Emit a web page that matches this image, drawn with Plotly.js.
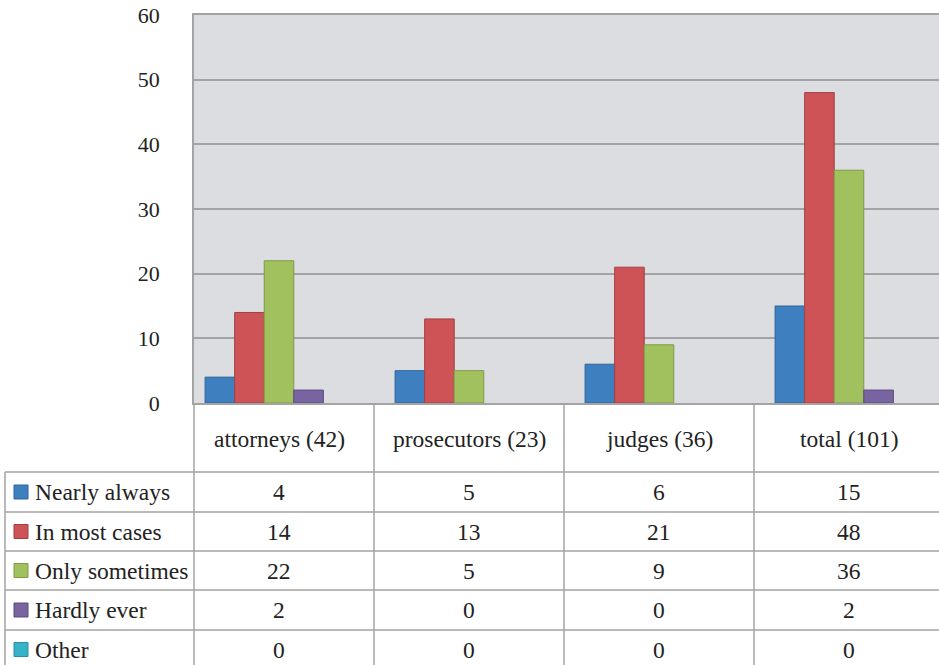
<!DOCTYPE html>
<html>
<head>
<meta charset="utf-8">
<script src="https://cdn.plot.ly/plotly-3.0.1.min.js"></script>
<style>
html,body{margin:0;padding:0;background:#fff;}
#chart{width:939px;height:665px;}
</style>
</head>
<body>
<div id="chart"></div>
<script>
// ---- data ----
const categories = ['attorneys (42)', 'prosecutors (23)', 'judges (36)', 'total (101)'];
const seriesNames = ['Nearly always', 'In most cases', 'Only sometimes', 'Hardly ever', 'Other'];
const nearlyAlways = [4, 5, 6, 15];
const inMostCases = [14, 13, 21, 48];
const onlySometimes = [22, 5, 9, 36];
const hardlyEver = [2, 0, 0, 2];
const other = [0, 0, 0, 0];
const yTicks = [0, 10, 20, 30, 40, 50, 60];

// ---- styles ----
const fills = ['#3d7fbf', '#cd5357', '#a1c15f', '#7864a0', '#36b3c9'];
const edges = ['#2f6598', '#a23f42', '#7f9b47', '#5a4a80', '#2a8fa2'];
const seriesValues = [nearlyAlways, inMostCases, onlySometimes, hardlyEver, other];
const FAMILY = 'Liberation Serif';
const FS_TICK = 22;
const FS_TABLE = 23.5;
const TXT = '#222';
const LINE = '#a3a3a3';

function draw() {
  const idx = categories.map((c, i) => i);
  const traces = seriesValues.map((vals, s) => ({
    type: 'bar', x: idx, y: vals, name: seriesNames[s],
    marker: {color: fills[s], line: {color: edges[s], width: vals.map(v => v === 0 ? 0 : 1)}},
    hoverinfo: 'x+y+name'
  }));

  const W = 939, H = 665, L = 194, T = 15, B = 262, R = 0;
  const plotH = H - T - B, plotW = W - L - R;
  const py = p => (H - B - p) / plotH;
  const px = p => (p - L) / plotW;

  const headerY = 439;
  const rowLines = [472, 512, 551, 590, 630];
  const rowCenters = [492, 531.5, 570.5, 610, 649.5];

  const shapes = [];
  const annotations = [];
  for (let i = 0; i < categories.length - 1; i++) {
    shapes.push({type: 'line', xref: 'x', yref: 'paper', x0: i + 0.5, x1: i + 0.5, y0: 0, y1: py(H + 2), line: {color: LINE, width: 1.5}});
  }
  shapes.push({type: 'line', xref: 'paper', yref: 'paper', x0: 0, x1: 0, y0: 0, y1: py(H + 2), line: {color: LINE, width: 1.5}});
  shapes.push({type: 'line', xref: 'paper', yref: 'paper', x0: px(5), x1: px(5), y0: py(rowLines[0]), y1: py(H + 2), line: {color: LINE, width: 1.5}});
  rowLines.forEach(r => shapes.push({type: 'line', xref: 'paper', yref: 'paper', x0: px(5), x1: 1, y0: py(r), y1: py(r), line: {color: LINE, width: 1.5}}));

  const tf = {family: FAMILY, size: FS_TABLE, color: TXT};
  categories.forEach((c, i) => annotations.push({xref: 'x', yref: 'paper', x: i, y: py(headerY), text: c, showarrow: false, xanchor: 'center', yanchor: 'middle', font: tf}));

  seriesNames.forEach((n, s) => {
    const cy = rowCenters[s];
    shapes.push({type: 'rect', xref: 'paper', yref: 'paper', x0: px(14), x1: px(28), y0: py(cy + 7), y1: py(cy - 7), fillcolor: fills[s], line: {color: edges[s], width: 1}});
    annotations.push({xref: 'paper', yref: 'paper', x: px(33), y: py(cy), text: n, showarrow: false, xanchor: 'left', yanchor: 'middle', font: tf});
    seriesValues[s].forEach((v, i) => annotations.push({xref: 'x', yref: 'paper', x: i, y: py(cy), text: String(v), showarrow: false, xanchor: 'center', yanchor: 'middle', font: tf}));
  });

  const layout = {
    width: W, height: H,
    font: {family: FAMILY, size: FS_TICK, color: TXT},
    margin: {l: L, r: R, t: T, b: B, pad: 0},
    paper_bgcolor: '#ffffff',
    plot_bgcolor: '#dcdde0',
    showlegend: false,
    barmode: 'group',
    bargap: 0.222,
    bargroupgap: 0,
    xaxis: {
      range: [-85 / 190, (W - 279) / 190],
      showticklabels: false, ticks: '', showgrid: false, zeroline: false,
      showline: true, linecolor: LINE, linewidth: 2, mirror: true, fixedrange: true
    },
    yaxis: {
      range: [0, 60], tickvals: yTicks, ticktext: yTicks.map(String),
      showgrid: true, gridcolor: LINE, gridwidth: 1.5, zeroline: false,
      showline: true, linecolor: LINE, linewidth: 1.5, ticks: '',
      ticklabelstandoff: 28,
      tickfont: {family: FAMILY, size: FS_TICK, color: TXT}, fixedrange: true
    },
    shapes: shapes,
    annotations: annotations
  };

  Plotly.newPlot('chart', traces, layout, {displayModeBar: false});
}

let done = false;
function go() { if (!done) { done = true; draw(); } }
if (document.fonts && document.fonts.load) {
  document.fonts.load('22px "Liberation Serif"', 'Nearly always 0123').then(go, go);
  setTimeout(go, 1500);
} else {
  go();
}
</script>
</body>
</html>
